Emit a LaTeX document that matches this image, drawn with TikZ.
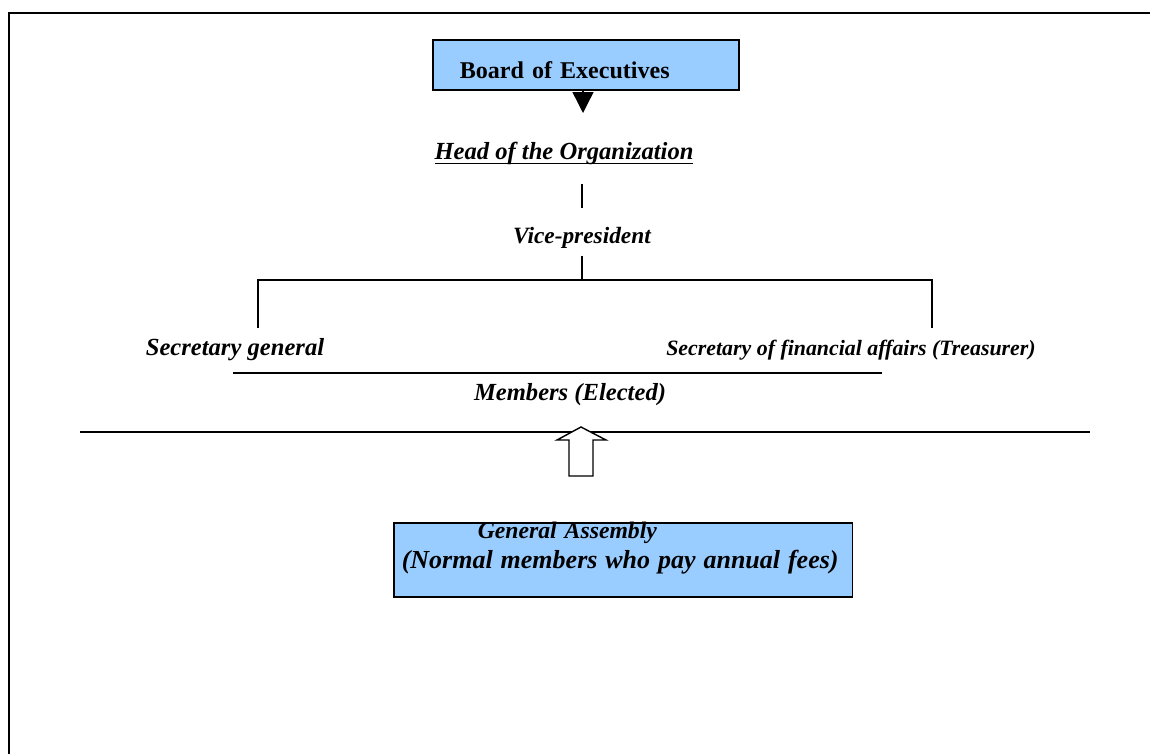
\documentclass[tikz,border=0pt]{standalone}
\usepackage{fontspec}
\setmainfont{Liberation Serif}
\usepackage{xcolor}
\usetikzlibrary{arrows.meta,positioning}
\definecolor{boxblue}{HTML}{99CCFF}
\newcommand{\ulbar}[1]{\setbox0\hbox{#1}\rlap{\rule[-3pt]{\wd0}{1pt}}\box0}

\begin{document}
\begin{tikzpicture}[x=0.02cm, y=-0.02cm, line width=0.8pt]
\tikzstyle{box}=[draw, fill=boxblue, line width=0.9pt, inner ysep=0, align=left, anchor=north west]
\tikzstyle{post}=[inner sep=0, anchor=base, font=\fontsize{14}{17}\selectfont\bfseries\itshape]
\useasboundingbox (0,0) rectangle (1150,754);
% open frame
\draw[line width=1.1pt] (9,754) -- (9,13) -- (1150,13);
% top of the tree
\node[box, minimum width=6.12cm, text width=5.04cm, inner xsep=0.54cm, text height=0.78cm, text depth=0.22cm,
  font=\fontsize{13.7}{17}\selectfont\bfseries] (board) at (432,39) {Board of Executives};
\node[post] (head) at (564,159) {\ulbar{Head of the Organization}};
\node[post, font=\fontsize{13.3}{17}\selectfont\bfseries\itshape] (vice) at (582,243) {Vice-president};
\node[post] (secgen) at (235,355) {Secretary general};
\node[post, font=\fontsize{12.45}{17}\selectfont\bfseries\itshape] (treas) at (851,355) {Secretary of financial affairs (Treasurer)};
\node[post] (members) at (570,400) {Members (Elected)};
\coordinate (tip) at (583,113);
\coordinate (fork) at (582,280);
\coordinate (legL) at (258,328);
\coordinate (legR) at (932,328);
\draw[-{Triangle[width=0.42cm,length=0.42cm]}] (board.south -| tip) -- (tip);
\draw ([yshift=-0.38cm]head.south -| vice.north) -- ([yshift=0.36cm]vice.north);
\draw ([yshift=-0.14cm]vice.south) -- (fork);
\draw (legL) |- (fork) -| (legR);
% separators
\coordinate (sepA) at (233,373);
\coordinate (sepB) at (882,373);
\coordinate (sepC) at (80,432);
\coordinate (sepD) at (1090,432);
\draw (sepA) -- (sepB);
\draw (sepC) -- (sepD);
% general assembly
\node[box, text width=8.86cm, inner xsep=0.16cm, text height=0.32cm, text depth=1.16cm,
  font=\fontsize{13.5}{17}\selectfont\bfseries\itshape] (ga) at (393,522)
  {\hspace*{1.52cm}General Assembly\\{\fontsize{14.8}{17}\selectfont(Normal members who pay annual fees)}};
\coordinate (up) at (581,476);
\draw[fill=white] (up) ++(-12,0) -- ++(0,-36) -- ++(-12,0) -- (581,427) -- ++(25,13) -- ++(-13,0) -- ++(0,36) -- cycle;
\end{tikzpicture}
\end{document}
